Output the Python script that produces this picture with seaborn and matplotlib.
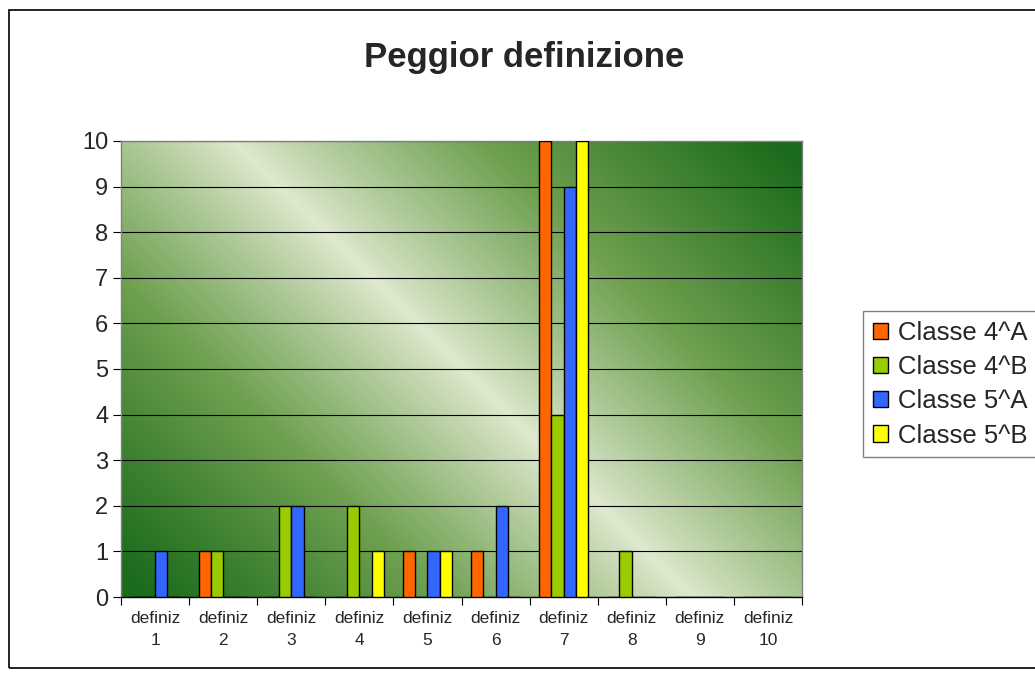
import numpy as np
import pandas as pd
import matplotlib.pyplot as plt
import matplotlib.colors as mcolors
import seaborn as sns

# dati
categorie = [f"definiz\n{i}" for i in range(1, 11)]
classe_4A = [0, 1, 0, 0, 1, 1, 10, 0, 0, 0]
classe_4B = [0, 1, 2, 2, 0, 0, 4, 1, 0, 0]
classe_5A = [1, 0, 2, 0, 1, 2, 9, 0, 0, 0]
classe_5B = [0, 0, 0, 1, 1, 0, 10, 0, 0, 0]
serie = ["Classe 4^A", "Classe 4^B", "Classe 5^A", "Classe 5^B"]
colori = ["#FF6600", "#99CC00", "#3366FF", "#FFFF00"]

df = pd.DataFrame({
    "cat": categorie * 4,
    "valore": classe_4A + classe_4B + classe_5A + classe_5B,
    "serie": np.repeat(serie, len(categorie)),
})

sns.set_style("white")
plt.rcParams['font.family'] = ['Liberation Sans', 'DejaVu Sans']

fig = plt.figure(figsize=(10.35, 6.77), dpi=100)
ax = fig.add_axes([121 / 1035, 1 - 597 / 677, 681 / 1035, 456 / 677])

# sfondo sfumato verde
nx, ny = 400, 270
xx, yy = np.meshgrid(np.linspace(0, 1, nx), np.linspace(0, 1, ny))
t = (xx * 680 + yy * 457) / (680 + 457)
v = 1 - np.clip(np.abs(t - 0.5) * 2.1, 0, 1) ** 0.9
cmap = mcolors.LinearSegmentedColormap.from_list("g", ["#1c6b1c", "#6ea050", "#dfe9cf"])
ax.imshow(v, cmap=cmap, origin="lower", extent=[0, 1, 0, 1], transform=ax.transAxes,
          aspect="auto", zorder=0, vmin=0, vmax=1)

sns.barplot(data=df, x="cat", y="valore", hue="serie", palette=colori, saturation=1,
            edgecolor="black", linewidth=1, width=0.72, ax=ax, zorder=3)

ax.set_xlim(-0.5, 9.5)
ax.set_ylim(0, 10)
ax.set_yticks(range(0, 11))
ax.yaxis.grid(True, color="black", linewidth=0.8)
for gl in ax.get_ygridlines():
    gl.set_zorder(1)
ax.set_xlabel("")
ax.set_ylabel("")
ax.tick_params(axis="y", labelsize=17, left=True, length=6, width=0.8, color="black", pad=3)
ax.tick_params(axis="x", labelsize=12.5, length=0, pad=10)
ax.set_xticks(np.arange(-0.5, 10, 1), minor=True)
ax.tick_params(axis="x", which="minor", bottom=True, length=6, width=0.8, color="black")
for lab in ax.get_xticklabels():
    lab.set_linespacing(1.6)
for s in ax.spines.values():
    s.set_color("#808080")
    s.set_linewidth(1)
ax.spines["bottom"].set_color("black")

fig.text(524 / 1035, 1 - 67 / 677, "Peggior definizione", ha="center", va="baseline",
         fontsize=25, fontweight="bold")

ax.legend_.remove()
handles = [plt.Rectangle((0, 0), 1, 1, facecolor=c, edgecolor="black", linewidth=1) for c in colori]
fig.legend(handles, serie, loc="upper left", bbox_to_anchor=(863 / 1035, 1 - 311 / 677),
           fontsize=18.5, frameon=True, fancybox=False, edgecolor="#606060",
           handlelength=0.6, handleheight=0.6, handletextpad=0.4, labelspacing=0.4,
           borderpad=0.38, borderaxespad=0)

# bordo dell'area del grafico
fig.add_artist(plt.Rectangle((9 / 1035, 1 - 668 / 677), 1.05, 658 / 677, transform=fig.transFigure,
                             fill=False, edgecolor="black", linewidth=1.2))

fig.savefig("out.png", dpi=100)
